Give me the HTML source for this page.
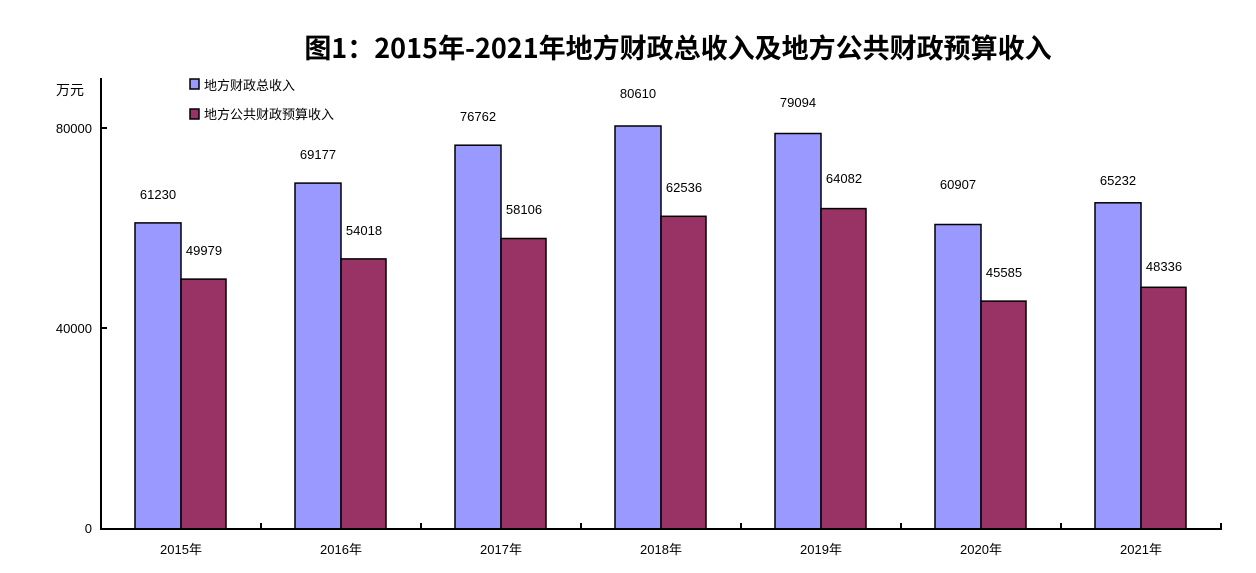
<!DOCTYPE html>
<html><head><meta charset="utf-8"><style>body{margin:0;background:#fff}</style></head><body>
<svg width="1256" height="568" xmlns="http://www.w3.org/2000/svg" font-family="Liberation Sans, 'Noto Sans CJK SC', sans-serif">
<rect width="1256" height="568" fill="#fff"/>
<text x="678" y="58" text-anchor="middle" font-size="27" font-weight="bold" font-family="'Noto Sans CJK SC', sans-serif">图1：2015年-2021年地方财政总收入及地方公共财政预算收入</text>
<text x="70" y="95" text-anchor="middle" font-size="14" font-family="'Noto Sans CJK SC', sans-serif">万元</text>
<rect x="190" y="79" width="9" height="10" fill="#9999ff" stroke="#000" stroke-width="1.5"/>
<text x="204" y="90" font-size="13" font-family="'Noto Sans CJK SC', sans-serif">地方财政总收入</text>
<rect x="190" y="109" width="9" height="10" fill="#993366" stroke="#000" stroke-width="1.5"/>
<text x="204" y="119" font-size="13" font-family="'Noto Sans CJK SC', sans-serif">地方公共财政预算收入</text>
<g font-size="13" text-anchor="end">
<text x="92" y="133">80000</text><text x="92" y="333">40000</text><text x="92" y="533">0</text>
</g>
<g stroke="#000" stroke-width="1.5">
<rect x="135" y="222.9" width="46" height="306.1" fill="#9999ff"/><rect x="181" y="279.1" width="45" height="249.9" fill="#993366"/>
<rect x="295" y="183.1" width="46" height="345.9" fill="#9999ff"/><rect x="341" y="258.9" width="45" height="270.1" fill="#993366"/>
<rect x="455" y="145.2" width="46" height="383.8" fill="#9999ff"/><rect x="501" y="238.5" width="45" height="290.5" fill="#993366"/>
<rect x="615" y="126" width="46" height="403" fill="#9999ff"/><rect x="661" y="216.3" width="45" height="312.7" fill="#993366"/>
<rect x="775" y="133.5" width="46" height="395.5" fill="#9999ff"/><rect x="821" y="208.6" width="45" height="320.4" fill="#993366"/>
<rect x="935" y="224.5" width="46" height="304.5" fill="#9999ff"/><rect x="981" y="301.1" width="45" height="227.9" fill="#993366"/>
<rect x="1095" y="202.8" width="46" height="326.2" fill="#9999ff"/><rect x="1141" y="287.3" width="45" height="241.7" fill="#993366"/>
</g>
<g font-size="13" text-anchor="middle">
<text x="158" y="199">61230</text><text x="204" y="255">49979</text>
<text x="318" y="159">69177</text><text x="364" y="235">54018</text>
<text x="478" y="121">76762</text><text x="524" y="214">58106</text>
<text x="638" y="98">80610</text><text x="684" y="192">62536</text>
<text x="798" y="107">79094</text><text x="844" y="183">64082</text>
<text x="958" y="189">60907</text><text x="1004" y="277">45585</text>
<text x="1118" y="185">65232</text><text x="1164" y="271">48336</text>
</g>
<g font-size="13" text-anchor="middle">
<text x="181" y="554">2015年</text><text x="341" y="554">2016年</text><text x="501" y="554">2017年</text><text x="661" y="554">2018年</text><text x="821" y="554">2019年</text><text x="981" y="554">2020年</text><text x="1141" y="554">2021年</text>
</g>
<line x1="101" y1="78" x2="101" y2="529" stroke="#000" stroke-width="2"/>
<line x1="100" y1="529" x2="1222" y2="529" stroke="#000" stroke-width="2"/>
<g stroke="#000" stroke-width="2">
<line x1="101" y1="128" x2="107" y2="128"/><line x1="101" y1="328" x2="107" y2="328"/>
<line x1="261" y1="529" x2="261" y2="523"/><line x1="421" y1="529" x2="421" y2="523"/><line x1="581" y1="529" x2="581" y2="523"/><line x1="741" y1="529" x2="741" y2="523"/><line x1="901" y1="529" x2="901" y2="523"/><line x1="1061" y1="529" x2="1061" y2="523"/><line x1="1221" y1="529" x2="1221" y2="523"/>
</g>
</svg>
</body></html>
